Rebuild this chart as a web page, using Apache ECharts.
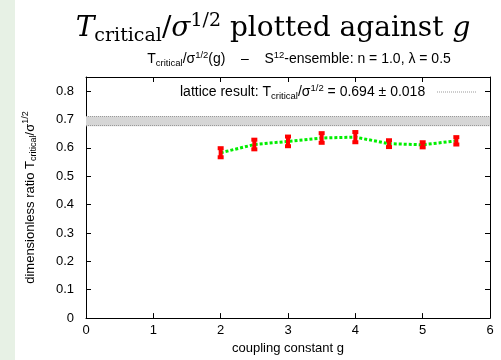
<!DOCTYPE html>
<html><head><meta charset="utf-8">
<script src="https://cdn.jsdelivr.net/npm/echarts@6/dist/echarts.min.js"></script>
<style>html,body{margin:0;padding:0;background:#fff}#c{width:501px;height:360px}</style>
</head><body><div id="c"></div>
<script>
const gValues = [2, 2.5, 3, 3.5, 4, 4.5, 5, 5.5];
const ratioValues = [0.583, 0.612, 0.623, 0.635, 0.638, 0.615, 0.611, 0.625];
const ratioErrors = [0.016, 0.017, 0.017, 0.017, 0.018, 0.012, 0.009, 0.013];
const latticeValue = 0.694;
const latticeError = 0.018;
const xTicks = [0, 1, 2, 3, 4, 5, 6];
const yTicks = [0, 0.1, 0.2, 0.3, 0.4, 0.5, 0.6, 0.7, 0.8];

const chart = echarts.init(document.getElementById('c'));
const sans = 'Liberation Sans';
const serif = 'DejaVu Serif';
const points = gValues.map((g, i) => [g, ratioValues[i], ratioErrors[i]]);

const axisCommon = {
  axisLine: {show: true, onZero: false, lineStyle: {color: '#000', width: 1}},
  axisTick: {show: true, inside: true, length: 5, lineStyle: {color: '#000'}},
  splitLine: {show: false}
};
const mkRich = (fs, sfs, lh, off, key) => ({
  n: {fontFamily: sans, fontSize: fs, fontWeight: 'normal', [key]: '#000', lineHeight: lh},
  sub: {fontFamily: sans, fontSize: sfs, fontWeight: 'normal', [key]: '#000', lineHeight: lh, padding: [off,0,0,0]},
  sup: {fontFamily: sans, fontSize: sfs, fontWeight: 'normal', [key]: '#000', lineHeight: lh, padding: [0,0,off,0]}
});

chart.setOption({
  animation: false,
  backgroundColor: '#fff',
  graphic: [
    {type: 'rect', left: 0, top: 0, shape: {width: 15, height: 360}, style: {fill: '#e7f1e5'}, z: -1},
    {type: 'text', left: 180, top: 83, z: 10,
     style: {text: '{n|lattice result: T}{sub|critical}{n|/σ}{sup|1/2}{n| = 0.694 ± 0.018}',
       rich: mkRich(14, 9.5, 20, 8, 'fill')}},
    {type: 'line', z: 10, shape: {x1: 437, y1: 92, x2: 476, y2: 92}, style: {stroke: '#999', lineWidth: 1, lineDash: [1, 1]}}
  ],
  title: [
    {left: 268, textAlign: 'center', top: 3,
     text: '{i|T}{sub|critical}{n|/}{i|σ}{sup|1/2}{n| plotted against }{i|g}',
     textStyle: {fontWeight: 'normal', rich: {
       i: {fontFamily: serif, fontStyle: 'italic', fontWeight: 'normal', fontSize: 28, color: '#000', lineHeight: 42},
       n: {fontFamily: serif, fontWeight: 'normal', fontSize: 28, color: '#000', lineHeight: 42},
       sub: {fontFamily: serif, fontWeight: 'normal', fontSize: 19, color: '#000', lineHeight: 42, padding: [14,0,0,0]},
       sup: {fontFamily: serif, fontWeight: 'normal', fontSize: 19, color: '#000', lineHeight: 42, padding: [0,0,15,0]}
     }}},
    {left: 294, textAlign: 'center', top: 44,
     text: '{n|T}{sub|critical}{n|/σ}{sup|1/2}{n|(g)    –    S}{sup|12}{n|-ensemble: n = 1.0, λ = 0.5}',
     textStyle: {fontWeight: 'normal', rich: mkRich(14, 9.5, 20, 8, 'color')}}
  ],
  grid: {left: 86, right: 11, top: 77, bottom: 40, containLabel: false},
  xAxis: [
    Object.assign({type: 'value', min: 0, max: 6, interval: 1, position: 'bottom',
      name: 'coupling constant g', nameLocation: 'middle', nameGap: 23,
      nameTextStyle: {fontFamily: sans, fontSize: 13, color: '#000'},
      axisLabel: {fontFamily: sans, fontSize: 13, color: '#000', margin: 6}}, axisCommon),
    Object.assign({type: 'value', min: 0, max: 6, interval: 1, position: 'top',
      axisLabel: {show: false}}, axisCommon)
  ],
  yAxis: [
    Object.assign({type: 'value', min: 0, max: 0.85, interval: 0.1, position: 'left',
      name: '{n|dimensionless ratio T}{sub|critical}{n|/σ}{sup|1/2}', nameLocation: 'middle', nameGap: 46, nameRotate: 90,
      nameTextStyle: {rich: mkRich(13, 9, 20, 8, 'color')},
      axisLabel: {fontFamily: sans, fontSize: 13, color: '#000', margin: 12,
        formatter: v => yTicks.some(t => Math.abs(t - v) < 1e-9) ? String(Math.round(v * 10) / 10) : ''}}, axisCommon),
    Object.assign({type: 'value', min: 0, max: 0.85, interval: 0.1, position: 'right',
      axisLabel: {show: false}}, axisCommon)
  ],
  series: [
    {type: 'line', xAxisIndex: 0, yAxisIndex: 0, data: [], silent: true,
     markArea: {silent: true, itemStyle: {color: '#d6d6d6'},
       data: [[{yAxis: latticeValue - latticeError}, {yAxis: latticeValue + latticeError}]]},
     markLine: {silent: true, symbol: 'none', label: {show: false},
       lineStyle: {color: '#999', type: [1, 1], width: 1},
       data: [{yAxis: latticeValue - latticeError}, {yAxis: latticeValue + latticeError}]}},
    {type: 'line', xAxisIndex: 0, yAxisIndex: 0, data: points.map(p => [p[0], p[1]]),
     symbol: 'none', z: 3, lineStyle: {color: '#00ee00', width: 3, type: [3, 2]}},
    {type: 'custom', xAxisIndex: 0, yAxisIndex: 0, z: 4, data: points,
     renderItem: (params, api) => {
       const x = api.value(0), y = api.value(1), e = api.value(2);
       const top = api.coord([x, y + e]);
       const bot = api.coord([x, y - e]);
       const hw = 3;
       const st = {stroke: '#ff0000', lineWidth: 4};
       return {type: 'group', children: [
         {type: 'line', shape: {x1: top[0], y1: top[1], x2: bot[0], y2: bot[1]}, style: st},
         {type: 'line', shape: {x1: top[0] - hw, y1: top[1], x2: top[0] + hw, y2: top[1]}, style: st},
         {type: 'line', shape: {x1: bot[0] - hw, y1: bot[1], x2: bot[0] + hw, y2: bot[1]}, style: st}
       ]};
     }}
  ]
});
</script></body></html>
